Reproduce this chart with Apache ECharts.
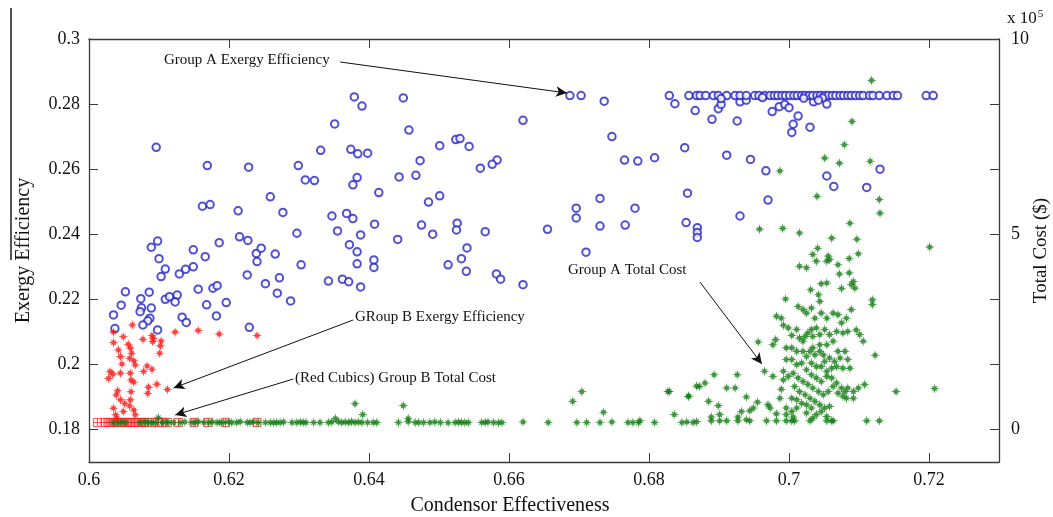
<!DOCTYPE html>
<html>
<head>
<meta charset="utf-8">
<script src="https://cdn.jsdelivr.net/npm/echarts@6/dist/echarts.min.js"></script>
<style>
html,body{margin:0;padding:0;background:#fff;overflow:hidden;}
#chart{width:1053px;height:517px;}
</style>
</head>
<body>
<div id="chart"></div>
<script>
// ---------- tick labels ----------
const xTicks = [0.6, 0.62, 0.64, 0.66, 0.68, 0.7, 0.72];
const effTicks = [0.18, 0.2, 0.22, 0.24, 0.26, 0.28, 0.3];
const costTicks = [0, 500000, 1000000];

// ---------- Group A exergy efficiency (blue circles): [condensor effectiveness, exergy efficiency] ----------
const groupAExergy = [
 [0.6096,0.2667],[0.6169,0.2611],[0.6228,0.2606],[0.6299,0.2611],[0.6309,0.2567],[0.6322,0.2565],
 [0.6259,0.2515],[0.6213,0.2472],[0.6277,0.2467],[0.6162,0.2486],[0.6173,0.2491],[0.6379,0.2822],
 [0.6390,0.2794],[0.6449,0.2819],[0.6457,0.2720],[0.6351,0.2739],[0.6331,0.2658],[0.6374,0.2661],
 [0.6384,0.2647],[0.6398,0.2649],[0.6501,0.2672],[0.6524,0.2691],[0.6530,0.2694],[0.6543,0.2670],
 [0.6559,0.2603],[0.6473,0.2626],[0.6467,0.2581],[0.6443,0.2576],[0.6383,0.2574],[0.6377,0.2552],
 [0.6414,0.2528],[0.6485,0.2499],[0.6501,0.2518],[0.6347,0.2456],[0.6368,0.2464],[0.6377,0.2448],
 [0.6355,0.2410],[0.6388,0.2398],[0.6408,0.2431],[0.6475,0.2428],[0.6491,0.2400],[0.6526,0.2434],
 [0.6525,0.2413],[0.6441,0.2384],[0.6540,0.2358],[0.6532,0.2325],[0.6513,0.2306],[0.6539,0.2286],
 [0.6297,0.2403],[0.6215,0.2392],[0.6227,0.2381],[0.6266,0.2339],[0.6239,0.2341],[0.6246,0.2357],
 [0.6240,0.2316],[0.6303,0.2306],[0.6372,0.2368],[0.6383,0.2346],[0.6383,0.2309],[0.6407,0.2321],
 [0.6407,0.2298],[0.6226,0.2275],[0.6272,0.2266],[0.6252,0.2248],[0.6269,0.2219],[0.6288,0.2195],
 [0.6342,0.2256],[0.6362,0.2262],[0.6371,0.2254],[0.6388,0.2238],[0.6186,0.2374],[0.6149,0.2352],
 [0.6166,0.2331],[0.6138,0.2292],[0.6129,0.2278],[0.6149,0.2300],[0.6109,0.2293],[0.6103,0.2270],
 [0.6100,0.2325],[0.6089,0.2360],[0.6098,0.2379],[0.6052,0.2223],[0.6074,0.2202],[0.6086,0.2222],
 [0.6109,0.2200],[0.6115,0.2208],[0.6126,0.2213],[0.6123,0.2192],[0.6156,0.2231],[0.6177,0.2234],
 [0.6183,0.2242],[0.6168,0.2183],[0.6196,0.2190],[0.6046,0.2182],[0.6075,0.2174],[0.6089,0.2173],
 [0.6035,0.2152],[0.6073,0.2162],[0.6087,0.2142],[0.6084,0.2134],[0.6077,0.2121],[0.6098,0.2106],
 [0.6037,0.2110],[0.6133,0.2145],[0.6139,0.2129],[0.6182,0.2149],[0.6229,0.2114],
 [0.6736,0.2809],[0.6837,0.2801],[0.6866,0.2780],[0.6890,0.2753],[0.6899,0.2786],[0.6903,0.2799],
 [0.6926,0.2748],[0.6976,0.2777],[0.6986,0.2792],[0.6994,0.2799],[0.7000,0.2789],[0.7006,0.2738],
 [0.7013,0.2763],[0.7004,0.2713],[0.7030,0.2729],[0.7054,0.2800],[0.7035,0.2807],[0.6930,0.2807],
 [0.6939,0.2812],[0.6747,0.2700],[0.6851,0.2666],[0.6784,0.2625],[0.6808,0.2635],[0.6911,0.2643],
 [0.6945,0.2630],[0.6967,0.2595],[0.7054,0.2579],[0.7064,0.2547],[0.7111,0.2544],[0.7130,0.2600],
 [0.6855,0.2526],[0.6970,0.2505],
 [0.6620,0.2750],[0.6583,0.2628],[0.6576,0.2615],[0.6566,0.2408],[0.6582,0.2278],[0.6588,0.2262],
 [0.6620,0.2245],[0.6655,0.2415],[0.6696,0.2480],[0.6696,0.2450],[0.6730,0.2425],[0.6730,0.2510],
 [0.6710,0.2345],[0.6765,0.2628],[0.6780,0.2480],[0.6766,0.2428],[0.6853,0.2436],[0.6869,0.2420],
 [0.6869,0.2405],[0.6869,0.2390],[0.6930,0.2456],
 [0.6687,0.2826],[0.6703,0.2826],[0.6829,0.2826],[0.6857,0.2826],[0.6868,0.2826],[0.6873,0.2826],
 [0.6881,0.2826],[0.6892,0.2826],[0.6899,0.2826],[0.6911,0.2826],[0.6923,0.2826],[0.6930,0.2826],
 [0.6939,0.2826],[0.6951,0.2826],[0.6957,0.2826],[0.6965,0.2826],[0.6973,0.2826],[0.6979,0.2826],
 [0.6984,0.2826],[0.6990,0.2826],[0.6995,0.2826],[0.7001,0.2826],[0.7007,0.2826],[0.7012,0.2826],
 [0.7018,0.2826],[0.7023,0.2826],[0.7029,0.2826],[0.7034,0.2826],[0.7040,0.2826],[0.7045,0.2826],
 [0.7051,0.2826],[0.7056,0.2826],[0.7062,0.2826],[0.7067,0.2826],[0.7073,0.2826],[0.7078,0.2826],
 [0.7084,0.2826],[0.7089,0.2826],[0.7095,0.2826],[0.7101,0.2826],[0.7106,0.2826],[0.7115,0.2826],
 [0.7120,0.2826],[0.7129,0.2826],[0.7140,0.2826],[0.7149,0.2826],[0.7155,0.2826],[0.7196,0.2826],
 [0.7206,0.2826],[0.6903,0.2817],[0.6962,0.2820],[0.7021,0.2818],[0.7048,0.2819],[0.7042,0.2812]
];

// ---------- Group B exergy efficiency (red stars) ----------
const groupBExergy = [
 [0.6062,0.2121],[0.6035,0.2099],[0.6077,0.2077],[0.6090,0.2089],[0.6092,0.2080],[0.6091,0.2070],
 [0.6103,0.2072],[0.6102,0.2057],[0.6101,0.2034],[0.6123,0.2099],[0.6156,0.2104],[0.6186,0.2093],
 [0.6240,0.2089],[0.6035,0.2067],[0.6049,0.2085],[0.6056,0.2062],[0.6059,0.2050],[0.6061,0.2034],
 [0.6058,0.2019],[0.6064,0.2011],[0.6042,0.2044],[0.6045,0.2024],[0.6047,0.2001],[0.6066,0.1998],
 [0.6030,0.1978],[0.6034,0.1970],[0.6028,0.1957],[0.6045,0.1973],[0.6059,0.1973],[0.6060,0.1952],
 [0.6064,0.1945],[0.6078,0.1978],[0.6083,0.1995],[0.6090,0.1985],[0.6097,0.1939],[0.6085,0.1930],
 [0.6084,0.1911],[0.6112,0.1923],[0.6041,0.1919],[0.6039,0.1906],[0.6045,0.1891],[0.6035,0.1865],
 [0.6051,0.1880],[0.6060,0.1916],[0.6059,0.1891],[0.6058,0.1872],[0.6064,0.1860],[0.6066,0.1845],
 [0.6038,0.1845],[0.6049,0.1855],[0.6040,0.1834]
];

// ---------- Group A total cost (green stars): [condensor effectiveness, cost $] ----------
const groupACost = [
 [0.6035,18000],[0.6042,18000],[0.6047,19000],[0.6052,18000],[0.6073,18000],[0.6080,19000],
 [0.6085,18000],[0.6090,18000],[0.6095,17000],[0.6099,30000],[0.6104,18000],[0.6109,19000],
 [0.6114,18000],[0.6121,18000],[0.6130,18000],[0.6137,19000],[0.6147,18000],[0.6152,18000],
 [0.6156,20000],[0.6164,18000],[0.6171,18000],[0.6176,19000],[0.6183,18000],[0.6187,18000],
 [0.6192,18000],[0.6199,19000],[0.6204,18000],[0.6211,18000],[0.6216,20000],[0.6226,18000],
 [0.6230,18000],[0.6235,19000],
 [0.6242,18000],[0.6252,18000],[0.6259,18000],[0.6264,17000],[0.6268,18000],[0.6273,18000],
 [0.6278,19000],[0.6290,18000],[0.6297,18000],[0.6302,19000],[0.6306,18000],[0.6310,18000],
 [0.6321,18000],[0.6330,18000],[0.6342,18000],[0.6347,19000],[0.6352,28000],[0.6356,20000],
 [0.6361,18000],[0.6366,19000],[0.6371,18000],[0.6375,20000],[0.6380,18000],[0.6385,19000],
 [0.6390,18000],[0.6398,18000],[0.6406,18000],[0.6411,18000],[0.6442,18000],[0.6456,20000],
 [0.6466,18000],[0.6471,18000],[0.6478,18000],[0.6487,18000],[0.6494,19000],[0.6502,18000],
 [0.6513,17000],[0.6523,18000],[0.6528,19000],[0.6532,18000],[0.6537,18000],[0.6542,18000],
 [0.6561,18000],[0.6566,18000],[0.6570,19000],[0.6578,18000],[0.6585,17000],[0.6590,18000],
 [0.6620,19000],[0.6656,18000],[0.6697,18000],[0.6711,18000],[0.6730,18000],[0.6747,19000],
 [0.6770,18000],[0.6777,18000],[0.6785,18000],[0.6808,18000],[0.6847,18000],[0.6854,19000],
 [0.6863,18000],[0.6868,20000],
 [0.6380,66000],[0.6449,61000],[0.6391,38000],[0.6456,28000],[0.6691,72000],[0.6704,97000],
 [0.6735,44000],[0.6827,97000],[0.6856,85000],[0.6868,111000],[0.6836,38000],
 [0.6787,22000],[0.6889,22000],[0.6901,22000],[0.6911,22000],[0.6927,22000],[0.6944,22000],
 [0.6968,22000],[0.6982,22000],[0.6996,22000],[0.7004,22000],[0.7008,22000],[0.7030,22000],
 [0.7054,22000],[0.7063,22000],[0.7111,22000],[0.7129,22000],
 [0.6829,97000],[0.6857,85000],[0.6872,110000],[0.6880,119000],[0.6893,140000],[0.6885,72000],
 [0.6899,61000],[0.6901,38000],[0.6889,32000],[0.6911,106000],[0.6923,106000],[0.6926,140000],
 [0.6939,83000],[0.6955,70000],[0.6949,55000],[0.6944,48000],[0.6932,46000],[0.6927,32000],
 [0.6939,25000],[0.6956,224000],[0.6981,230000],[0.6977,217000],[0.6965,149000],[0.6977,136000],
 [0.6970,63000],[0.6973,55000],[0.6982,40000],[0.6987,80000],[0.6989,103000],[0.6996,38000],
 [0.7006,32000],[0.7011,55000],[0.6992,127000],
 [0.6995,334000],[0.7015,418000],[0.7025,414000],[0.7034,448000],[0.7039,431000],[0.7056,444000],
 [0.7058,435000],[0.7070,422000],[0.7072,398000],[0.7086,438000],[0.7086,401000],[0.7099,450000],
 [0.7089,371000],[0.7092,379000],[0.7094,362000],[0.7075,361000],[0.7046,373000],[0.7054,375000],
 [0.7031,358000],[0.7042,345000],[0.7044,328000],[0.7013,315000],[0.7020,307000],[0.7025,298000],
 [0.7032,311000],[0.7037,285000],[0.7046,298000],[0.7054,285000],[0.7063,298000],[0.7070,294000],
 [0.7075,273000],[0.7082,285000],[0.7089,307000],[0.7077,247000],[0.7084,251000],[0.7096,255000],
 [0.7106,226000],[0.7101,243000],[0.7119,332000],[0.7119,320000],[0.7123,190000],[0.7108,115000],
 [0.7153,97000],[0.6982,290000],[0.6989,285000],[0.6992,267000],[0.6999,260000],[0.7004,241000],
 [0.7011,256000],[0.7015,234000],[0.7020,226000],[0.7023,238000],[0.7027,247000],[0.7032,256000],
 [0.7034,238000],[0.7039,260000],[0.7044,243000],[0.7051,256000],[0.7058,243000],[0.7068,251000],
 [0.7063,226000],[0.7054,217000],[0.7044,217000],[0.7034,209000],[0.7030,200000],[0.7037,191000],
 [0.7044,200000],[0.7049,191000],[0.7051,174000],[0.7058,183000],[0.7065,174000],[0.7070,200000],
 [0.7073,183000],[0.7080,200000],[0.7084,179000],[0.7087,157000],[0.7077,157000],[0.7068,161000],
 [0.7061,157000],[0.7054,149000],[0.7046,161000],[0.7039,161000],[0.7032,170000],[0.7025,187000],
 [0.7020,200000],[0.7011,200000],[0.7004,209000],[0.6996,209000],[0.6996,179000],[0.7004,179000],
 [0.7011,166000],[0.7018,170000],[0.7025,153000],[0.7032,140000],[0.7039,132000],[0.7046,123000],
 [0.7054,136000],[0.7061,132000],[0.7068,119000],[0.7075,106000],[0.7080,97000],[0.7084,106000],
 [0.7092,97000],[0.7099,106000],[0.7092,80000],[0.7077,85000],[0.7070,93000],[0.7063,110000],
 [0.7056,97000],[0.7049,89000],[0.7042,97000],[0.7034,106000],[0.7027,115000],[0.7020,123000],
 [0.7013,132000],[0.7006,144000],[0.6999,136000],[0.6992,149000],[0.7008,110000],[0.7015,97000],
 [0.7023,89000],[0.7030,80000],[0.7037,72000],[0.7044,63000],[0.7051,55000],[0.7058,59000],
 [0.7046,46000],[0.7039,38000],[0.7032,55000],[0.7025,63000],[0.7018,67000],[0.7011,76000],
 [0.7004,80000],[0.6996,55000],[0.7004,46000],[0.7025,42000],[0.7034,29000],[0.7054,33000],
 [0.7061,22000],[0.7082,80000],
 [0.7118,894000],[0.7090,789000],[0.7079,729000],[0.7051,695000],[0.7072,682000],[0.7116,687000],
 [0.6987,662000],[0.7040,597000],[0.7129,589000],[0.7130,554000],[0.6958,513000],[0.6991,515000],
 [0.7015,503000],[0.7041,464000],[0.7061,490000],[0.7087,528000],[0.7097,487000],[0.7054,431000],
 [0.7201,467000],[0.7208,105000]
];

// ---------- Group B total cost (red squares) ----------
const groupBCost = [
 [0.6012,18000],[0.6023,18000],[0.6027,18000],[0.6031,18000],[0.6035,18000],[0.6039,18000],
 [0.6043,18000],[0.6047,18000],[0.6051,18000],[0.6055,18000],[0.6059,18000],[0.6063,18000],
 [0.6067,18000],[0.6071,18000],[0.6075,18000],[0.6079,18000],[0.6083,18000],[0.6090,18000],
 [0.6098,18000],[0.6105,18000],[0.6112,18000],[0.6128,18000],[0.6150,18000],[0.6170,18000],
 [0.6195,18000],[0.6240,18000]
];

// ---------- annotation arrows, in (condensor effectiveness, exergy efficiency) space ----------
const annotations = [
 {text:'Group A Exergy Efficiency', from:[0.63588,0.29293], to:[0.66828,0.28340]},
 {text:'Group A Total Cost', from:[0.68727,0.22532], to:[0.69612,0.20012]},
 {text:'GRoup B Exergy Efficiency', from:[0.63773,0.21364], to:[0.61208,0.19275]},
 {text:'(Red Cubics) Group B Total Cost', from:[0.62920,0.19551], to:[0.61232,0.18445]}
];

const FONT = '"Liberation Serif", "DejaVu Serif", serif';
const AXC = '#3a3a3a';
const starPath = 'path://M0,-10 L1.6,-3.6 L5.5,-5.5 L3.6,-1.6 L10,0 L3.6,1.6 L5.5,5.5 L1.6,3.6 L0,10 L-1.6,3.6 L-5.5,5.5 L-3.6,1.6 L-10,0 L-3.6,-1.6 L-5.5,-5.5 L-1.6,-3.6 Z';
const boxPlusPath = 'path://M-5,-5 L5,-5 L5,5 L-5,5 Z M0,-5 L0,5 M-5,0 L5,0';

const fmt2 = v => String(parseFloat(Number(v).toFixed(2)));

const chart = echarts.init(document.getElementById('chart'), null, {renderer:'canvas', width:1053, height:517});

const baseTick = {inside:true, length:9, lineStyle:{color:AXC, width:1}};

const option = {
  animation:false,
  backgroundColor:'#ffffff',
  grid:{left:89, right:54, top:39, bottom:55, containLabel:false, outerBoundsMode:'none'},
  xAxis:[
    {type:'value', min:0.6, max:0.73, position:'bottom',
     axisLine:{show:true, onZero:false, lineStyle:{color:AXC, width:1.3}},
     axisTick:Object.assign({customValues:xTicks}, baseTick),
     axisLabel:{customValues:xTicks, formatter:fmt2, fontFamily:FONT, fontSize:18, color:'#111', margin:9},
     splitLine:{show:false},
     name:'Condensor Effectiveness', nameLocation:'middle', nameGap:34,
     nameTextStyle:{fontFamily:FONT, fontSize:20, color:'#111', padding:[0,68,0,0]}
    },
    {type:'value', min:0.6, max:0.73, position:'top',
     axisLine:{show:true, onZero:false, lineStyle:{color:AXC, width:1.3}},
     axisTick:Object.assign({customValues:xTicks}, baseTick),
     axisLabel:{show:false}, splitLine:{show:false}
    }
  ],
  yAxis:[
    {type:'value', min:0.17, max:0.3, position:'left',
     axisLine:{show:true, onZero:false, lineStyle:{color:AXC, width:1.3}},
     axisTick:Object.assign({customValues:effTicks}, baseTick),
     axisLabel:{customValues:effTicks, formatter:fmt2, fontFamily:FONT, fontSize:18, color:'#111', margin:9},
     splitLine:{show:false},
     name:'Exergy Efficiency', nameLocation:'middle', nameGap:55, nameRotate:90,
     nameTextStyle:{fontFamily:FONT, fontSize:20, color:'#111'}
    },
    {type:'value', min:-1000000/12, max:1000000, position:'right',
     axisLine:{show:true, onZero:false, lineStyle:{color:AXC, width:1.3}},
     axisTick:Object.assign({customValues:costTicks}, baseTick),
     axisLabel:{customValues:costTicks, formatter:v => String(Math.round(v/100000)), fontFamily:FONT, fontSize:18, color:'#111', margin:12},
     splitLine:{show:false},
     name:'Total Cost ($)', nameLocation:'middle', nameGap:33, nameRotate:90, nameMoveOverlap:false,
     nameTextStyle:{fontFamily:FONT, fontSize:19, color:'#111'}
    },
    {type:'value', min:0.17, max:0.3, position:'right',
     axisLine:{show:false},
     axisTick:Object.assign({customValues:effTicks}, baseTick),
     axisLabel:{show:false}, splitLine:{show:false}
    }
  ],
  series:[
    {name:'Group A Exergy Efficiency', type:'scatter', xAxisIndex:0, yAxisIndex:0,
     data:groupAExergy, symbol:'emptyCircle', symbolSize:7.5,
     itemStyle:{color:'#2626c8', borderColor:'#2626c8', borderWidth:0.85}, z:3,
     markLine:{silent:true, animation:false, symbol:['none','arrow'], symbolSize:[8,11],
       label:{show:false},
       lineStyle:{color:'#111', width:1, type:'solid'},
       emphasis:{disabled:true},
       data:annotations.map(a => [{coord:a.from}, {coord:a.to}])
     }
    },
    {name:'Group A Total Cost', type:'scatter', xAxisIndex:0, yAxisIndex:1,
     data:groupACost, symbol:starPath, symbolSize:10,
     itemStyle:{color:'#107a10'}, z:2},
    {name:'Group B Exergy Efficiency', type:'scatter', xAxisIndex:0, yAxisIndex:0,
     data:groupBExergy, symbol:starPath, symbolSize:10,
     itemStyle:{color:'#ff1010'}, z:4},
    {name:'Group B Total Cost', type:'scatter', xAxisIndex:0, yAxisIndex:1,
     data:groupBCost, symbol:boxPlusPath, symbolSize:8,
     itemStyle:{color:'rgba(255,255,255,0)', borderColor:'#ff2020', borderWidth:1}, z:1}
  ],
  graphic:[
    {type:'line', shape:{x1:11, y1:8, x2:11, y2:260}, style:{stroke:'#555', lineWidth:2}, silent:true},
    {type:'text', left:1007, top:9, silent:true,
     style:{text:'{a|x 10}{b|5}', rich:{a:{fontFamily:FONT, fontSize:17, fill:'#111'}, b:{fontFamily:FONT, fontSize:11, fill:'#111', verticalAlign:'top', padding:[0,0,8,1]}}}},
    {type:'text', left:164, top:53, silent:true, style:{text:annotations[0].text, fontFamily:FONT, fontSize:15, fill:'#111'}},
    {type:'text', left:568, top:263, silent:true, style:{text:annotations[1].text, fontFamily:FONT, fontSize:15, fill:'#111'}},
    {type:'text', left:355, top:310, silent:true, style:{text:annotations[2].text, fontFamily:FONT, fontSize:15, fill:'#111'}},
    {type:'text', left:295, top:371, silent:true, style:{text:annotations[3].text, fontFamily:FONT, fontSize:15, fill:'#111'}}
  ]
};
chart.setOption(option);
</script>
</body>
</html>
